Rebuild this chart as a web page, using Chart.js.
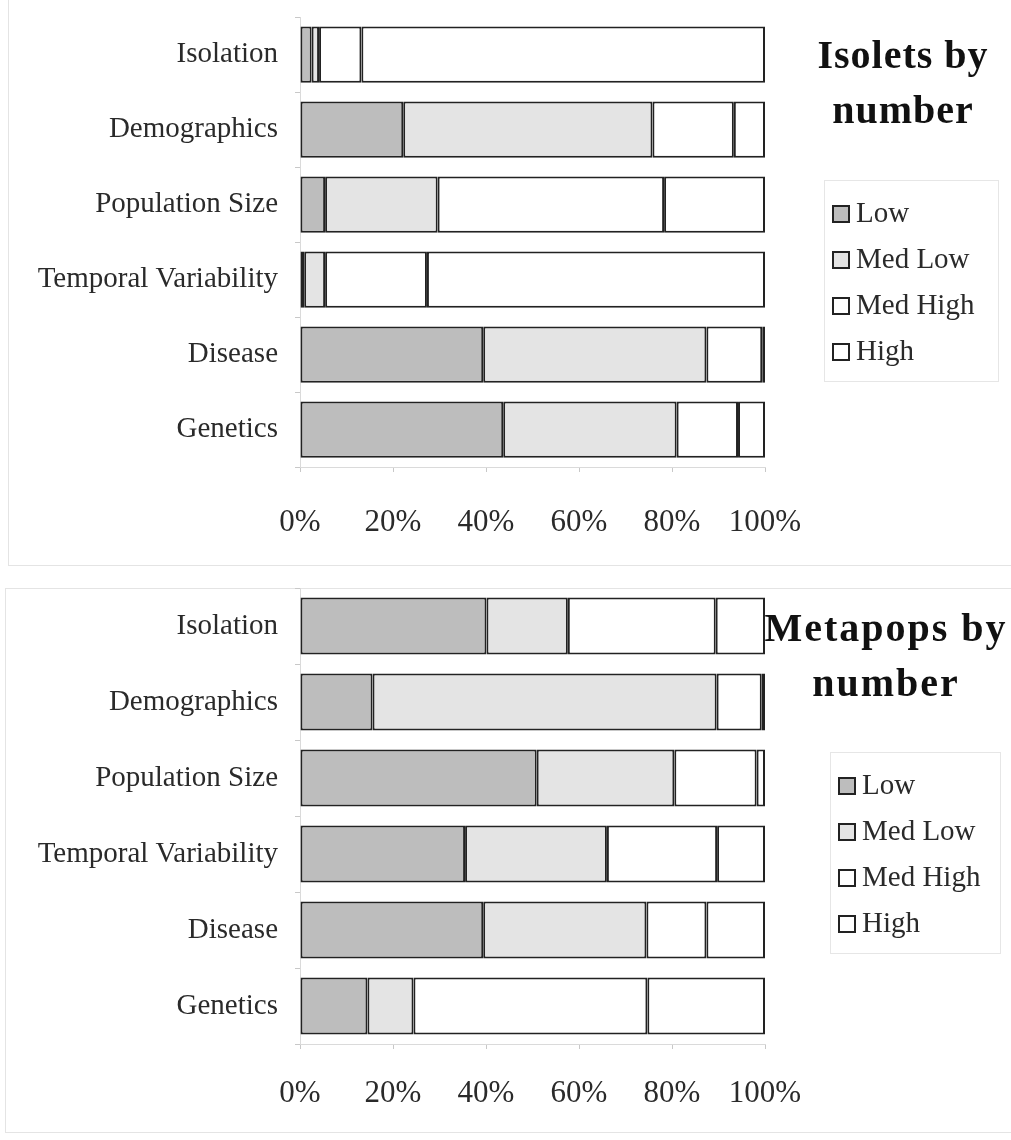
<!DOCTYPE html>
<html>
<head>
<meta charset="utf-8">
<script src="https://cdn.jsdelivr.net/npm/chart.js@4/dist/chart.umd.min.js"></script>
<style>
  body { margin: 0; background: #fff; width: 1011px; height: 1140px; position: relative; overflow: hidden; font-family: "Liberation Serif", "Times New Roman", serif; color: #2a2a2a; }
  .panel { position: absolute; left: 0; width: 1011px; }
  .frame { position: absolute; border: 1px solid #e4e4e4; }
  .title { position: absolute; font-weight: bold; font-size: 40px; line-height: 55px; text-align: center; color: #111; letter-spacing: 1px; }
  .legend { position: absolute; border: 1px solid #e6e6e6; padding: 8px 0 8px 7px; }
  .legend div { font-size: 29px; line-height: 46px; height: 46px; white-space: nowrap; }
  .legend span.box { display: inline-block; width: 14px; height: 14px; border: 2px solid #222; margin-right: 6px; vertical-align: -1px; }
</style>
</head>
<body>
<div class="frame" style="left:8px; top:-2px; width:1010px; height:566px;"></div>
<div class="frame" style="left:5px; top:588px; width:1010px; height:543px;"></div>

<div class="panel" style="top:0; height:575px;"><canvas id="chart-isolets"></canvas></div>
<div class="panel" style="top:575px; height:565px;"><canvas id="chart-metapops"></canvas></div>

<div class="title" style="left:800px; top:27px; width:206px;">Isolets by<br>number</div>
<div class="legend" id="legend-isolets" style="left:824px; top:180px; width:166px;"></div>

<div class="title" style="left:760px; top:600px; width:252px; letter-spacing: 2px;">Metapops by<br>number</div>
<div class="legend" id="legend-metapops" style="left:830px; top:752px; width:162px;"></div>

<script>
// Categories, top to bottom
const categories = ['Isolation', 'Demographics', 'Population Size', 'Temporal Variability', 'Disease', 'Genetics'];
const seriesNames = ['Low', 'Med Low', 'Med High', 'High'];
const seriesColors = ['#bdbdbd', '#e4e4e4', '#ffffff', '#ffffff'];
const xTicks = [0, 20, 40, 60, 80, 100];

// Isolets by number (percent of total)
const isoletsLow     = [2.5, 22.2,  5.4,  0.9, 39.4, 43.7];
const isoletsMedLow  = [1.6, 53.6, 24.2,  4.5, 48.0, 37.3];
const isoletsMedHigh = [9.1, 17.5, 48.7, 21.9, 12.0, 13.2];
const isoletsHigh    = [86.8, 6.7, 21.7, 72.7,  0.6,  5.8];

// Metapops by number (percent of total)
const metapopsLow     = [40.1, 15.6, 50.9, 35.5, 39.4, 14.5];
const metapopsMedLow  = [17.5, 74.0, 29.6, 30.5, 35.1,  9.9];
const metapopsMedHigh = [31.8,  9.7, 17.7, 23.7, 12.9, 50.3];
const metapopsHigh    = [10.6,  0.7,  1.8, 10.3, 12.6, 25.3];

const serif = '"Liberation Serif", "Times New Roman", serif';

// Build the datasets for one chart
const makeDatasets = (seriesList) => seriesList.map((values, i) => ({
    label: seriesNames[i],
    data: values,
    backgroundColor: seriesColors[i],
    borderColor: '#222',
    borderWidth: 2,
    borderSkipped: false,
    barPercentage: 0.75,
    categoryPercentage: 1.0
}));

// Create a stacked horizontal percent bar chart
const makeChart = (canvasId, seriesList, opts) => {
    const ctx = document.getElementById(canvasId).getContext('2d');
    return new Chart(ctx, {
        type: 'bar',
        data: {
            labels: categories,
            datasets: makeDatasets(seriesList)
        },
        options: {
            indexAxis: 'y',
            responsive: true,
            maintainAspectRatio: false,
            animation: false,
            layout: {
                padding: { top: opts.top, right: 246, left: 0, bottom: 0 }
            },
            plugins: {
                legend: { display: false },
                tooltip: { enabled: false }
            },
            scales: {
                x: {
                    stacked: true,
                    min: 0,
                    max: 100,
                    afterBuildTicks: (scale) => {
                        scale.ticks = xTicks.map(v => ({ value: v }));
                    },
                    afterFit: (scale) => { scale.height = opts.axisHeight; },
                    grid: {
                        drawOnChartArea: false,
                        color: '#c8c8c8',
                        tickLength: 5
                    },
                    border: { color: '#dadada' },
                    ticks: {
                        padding: opts.tickPad,
                        color: '#2a2a2a',
                        font: { family: serif, size: 31 },
                        callback: (v) => v + '%'
                    }
                },
                y: {
                    stacked: true,
                    // fixed label column, and no extra room for half labels
                    afterFit: (scale) => {
                        scale.width = 300;
                        scale.paddingTop = 0;
                        scale.paddingBottom = 0;
                    },
                    grid: {
                        drawOnChartArea: false,
                        color: '#c8c8c8',
                        tickLength: 5
                    },
                    border: { color: '#dadada' },
                    ticks: {
                        padding: 17,
                        color: '#2a2a2a',
                        font: { family: serif, size: 29 }
                    }
                }
            }
        }
    });
};

// HTML legend built from the series names and colours
const buildLegend = (elemId) => {
    const el = document.getElementById(elemId);
    seriesNames.forEach((name, i) => {
        const row = document.createElement('div');
        const box = document.createElement('span');
        box.className = 'box';
        box.style.background = seriesColors[i];
        row.appendChild(box);
        row.appendChild(document.createTextNode(name));
        el.appendChild(row);
    });
};

makeChart('chart-isolets', [isoletsLow, isoletsMedLow, isoletsMedHigh, isoletsHigh],
    { top: 17, axisHeight: 108, tickPad: 32 });
makeChart('chart-metapops', [metapopsLow, metapopsMedLow, metapopsMedHigh, metapopsHigh],
    { top: 13, axisHeight: 96, tickPad: 26 });

buildLegend('legend-isolets');
buildLegend('legend-metapops');
</script>
</body>
</html>
